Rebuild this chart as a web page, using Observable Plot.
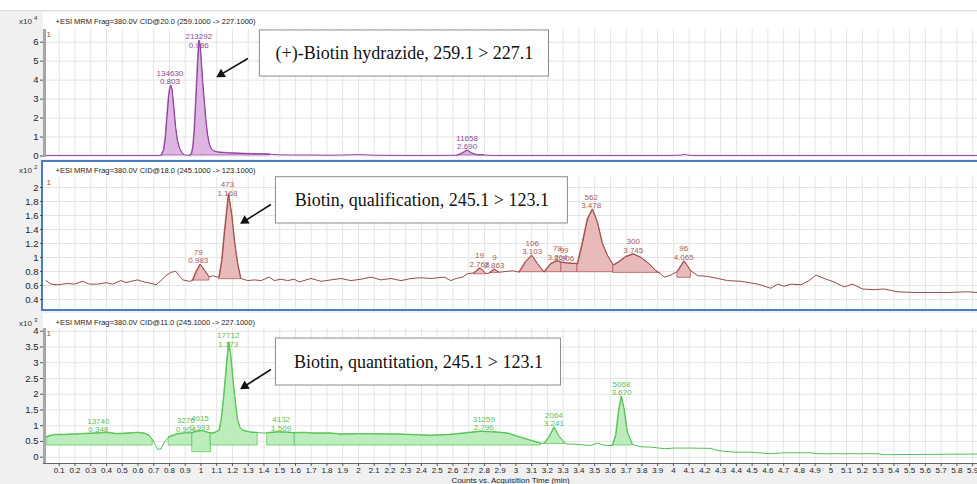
<!DOCTYPE html>
<html>
<head>
<meta charset="utf-8">
<script src="https://cdn.jsdelivr.net/npm/d3@7"></script>
<script src="https://cdn.jsdelivr.net/npm/@observablehq/plot@0.6"></script>
<style>
  body { margin: 0; background: #ffffff; }
  #wrap { position: relative; width: 977px; height: 484px; background: #f0f0f0; overflow: hidden;
          font-family: "Liberation Sans", Arial, sans-serif; }
  .bg { position: absolute; box-sizing: border-box; }
  .panel { position: absolute; left: 0; }
  .mult { position: absolute; left: 19px; font-size: 8px; color: #333; }
  .mult sup { font-size: 6px; margin-left: 2px; }
</style>
</head>
<body>
<div id="wrap">
  <div class="bg" style="left:0;top:0;width:977px;height:11px;background:#fff;border-bottom:1px solid #dedede"></div>
  <div class="bg" style="left:43px;top:12px;width:934px;height:147px;background:#fff"></div>
  <div class="bg" style="left:41px;top:160px;width:950px;height:151px;background:#fff;border:2px solid #4a7cc0"></div>
  <div class="bg" style="left:43px;top:313px;width:934px;height:150px;background:#fff"></div>
  <div class="mult" style="top:15px">x10<sup>4</sup></div>
  <div class="mult" style="top:164px">x10<sup>2</sup></div>
  <div class="mult" style="top:317px">x10<sup>3</sup></div>
</div>
<script>
// ---------------- shared axis values ----------------
const xMax = 5.931;
const xTicks = d3.range(1, 60).map(i => i / 10);
const xTitle = "Counts vs. Acquisition Time (min)";

// ---------------- Panel 1: (+)-Biotin hydrazide (x10^4 counts) ----------------
const header1 = "+ESI MRM Frag=380.0V CID@20.0 (259.1000 -> 227.1000)";
const yTicks1 = [0, 1, 2, 3, 4, 5, 6];
const trace1 = [
  [0.016,0.03],[0.300,0.03],[0.600,0.03],[0.740,0.03],[0.750,0.04],[0.765,0.35],[0.775,1.0],[0.785,2.1],
  [0.795,3.1],[0.803,3.6],[0.810,3.72],[0.818,3.5],[0.828,2.6],[0.840,1.5],[0.852,0.8],[0.865,0.4],
  [0.880,0.15],[0.895,0.06],[0.910,0.04],[0.930,0.04],[0.940,0.1],[0.950,0.5],[0.958,1.3],[0.965,2.4],
  [0.972,3.6],[0.980,5.0],[0.988,6.09],[0.995,5.9],[1.003,5.0],[1.012,3.9],[1.022,2.9],[1.032,1.9],
  [1.043,1.1],[1.055,0.6],[1.068,0.35],[1.085,0.25],[1.110,0.2],[1.150,0.17],[1.200,0.15],[1.260,0.13],
  [1.320,0.11],[1.400,0.10],[1.440,0.09],[1.500,0.06],[1.600,0.05],[1.700,0.05],[1.800,0.04],[1.900,0.05],
  [2.000,0.07],[2.050,0.06],[2.100,0.04],[2.300,0.03],[2.500,0.03],[2.630,0.04],[2.660,0.15],[2.690,0.30],
  [2.720,0.15],[2.750,0.06],[2.800,0.05],[2.850,0.03],[3.000,0.03],[3.500,0.03],[4.000,0.03],[4.050,0.05],
  [4.070,0.08],[4.090,0.05],[4.120,0.03],[4.500,0.03],[5.000,0.03],[5.500,0.03],[5.931,0.03]
];
const peakArea1  = [134630, 213292, 11658];
const peakRT1    = [0.803, 0.986, 2.690];
const peakStart1 = [0.750, 0.930, 2.630];
const peakEnd1   = [0.895, 1.440, 2.800];
const peakBase1  = [0.03, 0.03, 0.03];
const note1 = "(+)-Biotin hydrazide, 259.1 > 227.1";

// ---------------- Panel 2: Biotin qualification (x10^2 counts) ----------------
const header2 = "+ESI MRM Frag=380.0V CID@18.0 (245.1000 -> 123.1000)";
const yTicks2 = [0.4, 0.6, 0.8, 1, 1.2, 1.4, 1.6, 1.8, 2];
const trace2 = [
  [0.016,0.67],[0.048,0.62],[0.090,0.61],[0.154,0.63],[0.196,0.62],[0.249,0.66],[0.291,0.62],[0.344,0.62],
  [0.397,0.64],[0.439,0.62],[0.492,0.67],[0.524,0.64],[0.556,0.66],[0.598,0.68],[0.640,0.65],[0.683,0.63],
  [0.714,0.61],[0.746,0.67],[0.778,0.74],[0.810,0.79],[0.841,0.80],[0.862,0.74],[0.884,0.68],[0.926,0.66],
  [0.947,0.67],[0.971,0.80],[0.996,0.90],[1.013,0.85],[1.032,0.79],[1.053,0.72],[1.074,0.74],[1.106,0.72],
  [1.116,0.72],[1.133,0.95],[1.152,1.40],[1.176,1.91],[1.197,1.60],[1.216,1.20],[1.235,0.90],[1.254,0.70],
  [1.297,0.67],[1.338,0.68],[1.381,0.67],[1.434,0.72],[1.465,0.67],[1.508,0.69],[1.550,0.67],[1.592,0.69],
  [1.624,0.65],[1.698,0.70],[1.762,0.66],[1.825,0.68],[1.889,0.70],[1.952,0.67],[2.016,0.69],[2.079,0.72],
  [2.143,0.68],[2.206,0.70],[2.270,0.67],[2.333,0.70],[2.397,0.71],[2.460,0.70],[2.503,0.71],[2.545,0.72],
  [2.587,0.67],[2.619,0.70],[2.662,0.72],[2.693,0.77],[2.735,0.78],[2.773,0.85],[2.810,0.77],[2.835,0.78],
  [2.862,0.83],[2.894,0.79],[2.937,0.80],[2.979,0.81],[3.021,0.79],[3.063,0.94],[3.102,1.03],[3.138,0.91],
  [3.180,0.79],[3.222,0.91],[3.260,0.95],[3.290,0.93],[3.328,0.92],[3.392,0.91],[3.424,1.22],[3.455,1.55],
  [3.487,1.69],[3.519,1.50],[3.550,1.20],[3.582,1.03],[3.620,0.89],[3.656,0.94],[3.698,1.01],[3.745,1.05],
  [3.794,1.00],[3.846,0.91],[3.889,0.81],[3.916,0.77],[3.942,0.72],[3.984,0.75],[4.027,0.80],[4.069,0.95],
  [4.111,0.81],[4.154,0.74],[4.217,0.73],[4.281,0.70],[4.344,0.67],[4.429,0.66],[4.535,0.62],[4.619,0.56],
  [4.662,0.62],[4.703,0.59],[4.746,0.62],[4.810,0.61],[4.862,0.67],[4.905,0.75],[4.957,0.70],[5.021,0.65],
  [5.084,0.58],[5.138,0.62],[5.201,0.55],[5.275,0.54],[5.338,0.55],[5.424,0.51],[5.529,0.50],[5.635,0.50],
  [5.741,0.50],[5.868,0.51],[5.931,0.50]
];
const peakArea2  = [79, 473, 19, 9, 106, 78, 99, 562, 300, 96];
const peakRT2    = [0.983, 1.168, 2.768, 2.863, 3.103, 3.264, 3.306, 3.478, 3.745, 4.065];
const peakStart2 = [0.947, 1.116, 2.735, 2.835, 3.021, 3.180, 3.290, 3.392, 3.620, 4.027];
const peakEnd2   = [1.053, 1.254, 2.810, 2.894, 3.180, 3.290, 3.392, 3.620, 3.916, 4.111];
const peakBase2  = [0.67, 0.69, 0.76, 0.78, 0.79, 0.79, 0.79, 0.79, 0.78, 0.71];
const note2 = "Biotin, qualification, 245.1 > 123.1";

// ---------------- Panel 3: Biotin quantitation (x10^3 counts) ----------------
const header3 = "+ESI MRM Frag=380.0V CID@11.0 (245.1000 -> 227.1000)";
const yTicks3 = [0, 0.5, 1, 1.5, 2, 2.5, 3, 3.5, 4];
const trace3 = [
  [0.016,0.63],[0.027,0.66],[0.069,0.71],[0.154,0.72],[0.238,0.74],[0.323,0.76],[0.408,0.78],[0.471,0.74],
  [0.535,0.76],[0.598,0.78],[0.640,0.76],[0.672,0.69],[0.693,0.55],[0.725,0.25],[0.746,0.26],[0.771,0.50],
  [0.797,0.64],[0.852,0.74],[0.905,0.77],[0.947,0.78],[0.975,0.82],[1.006,0.84],[1.037,0.80],[1.063,0.76],
  [1.089,0.78],[1.116,0.85],[1.130,1.20],[1.143,1.80],[1.156,2.50],[1.168,3.20],[1.178,3.65],[1.189,3.30],
  [1.202,2.60],[1.216,1.90],[1.233,1.20],[1.248,0.95],[1.265,0.85],[1.317,0.79],[1.360,0.78],[1.387,0.77],
  [1.423,0.77],[1.487,0.80],[1.550,0.79],[1.597,0.77],[1.656,0.78],[1.719,0.76],[1.825,0.76],[1.889,0.73],
  [2.035,0.74],[2.249,0.73],[2.460,0.69],[2.566,0.71],[2.670,0.76],[2.778,0.82],[2.884,0.79],[2.947,0.76],
  [3.011,0.66],[3.095,0.53],[3.159,0.44],[3.180,0.44],[3.209,0.62],[3.243,0.95],[3.276,0.65],[3.317,0.42],
  [3.381,0.41],[3.476,0.37],[3.519,0.45],[3.559,0.38],[3.614,0.37],[3.635,0.70],[3.654,1.50],[3.671,1.93],
  [3.689,1.50],[3.708,0.80],[3.741,0.40],[3.794,0.33],[3.857,0.32],[3.942,0.27],[4.003,0.29],[4.111,0.29],
  [4.238,0.28],[4.281,0.21],[4.384,0.16],[4.492,0.16],[4.619,0.11],[4.702,0.14],[4.873,0.14],[4.917,0.11],
  [5.298,0.11],[5.336,0.08],[5.635,0.09],[5.931,0.10]
];
const peakArea3  = [13740, 3276, 4015, 17712, 4132, 31259, 2064, 5068];
const peakRT3    = [0.348, 0.904, 0.993, 1.173, 1.509, 2.796, 3.241, 3.670];
const peakStart3 = [0.027, 0.797, 0.947, 1.063, 1.423, 1.597, 3.180, 3.614];
const peakEnd3   = [0.693, 0.947, 1.063, 1.360, 1.597, 3.159, 3.317, 3.741];
const peakBase3  = [0.37, 0.37, 0.16, 0.37, 0.37, 0.37, 0.42, 0.37];
const note3 = "Biotin, quantitation, 245.1 > 123.1";

// ---------------- layout / style (not data) ----------------
const panels = [
  { top: 0, height: 160, marginTop: 29, marginBottom: 3, yDomain: [-0.08, 6.67], headerDy: -8,
    header: header1, yTicks: yTicks1, trace: trace1, area: peakArea1, rt: peakRT1, start: peakStart1, end: peakEnd1, base: peakBase1,
    line: "#8b3f98", fill: "#dcaee0", edge: "#a25cad", label: "#8a4c9c", bar: true, xAxis: false,
    note: note1, box: {x1: 1.374, x2: 3.21, y1: 4.19, y2: 6.62}, arrow: {x1: 1.298, y1: 5.14, x2: 1.114, y2: 4.24} },
  { top: 161, height: 150, marginTop: 16, marginBottom: 2, yDomain: [0.257, 2.143], headerDy: -7,
    header: header2, yTicks: yTicks2, trace: trace2, area: peakArea2, rt: peakRT2, start: peakStart2, end: peakEnd2, base: peakBase2,
    line: "#9a4a4a", fill: "#e6b3b3", edge: "#b35c5c", label: "#a85b5b", bar: false, xAxis: false,
    note: note2, box: {x1: 1.476, x2: 3.33, y1: 1.486, y2: 2.147}, arrow: {x1: 1.444, y1: 1.757, x2: 1.265, y2: 1.504} },
  { top: 312, height: 172, marginTop: 16, marginBottom: 21, yDomain: [-0.2, 4.086], headerDy: -6,
    header: header3, yTicks: yTicks3, trace: trace3, area: peakArea3, rt: peakRT3, start: peakStart3, end: peakEnd3, base: peakBase3,
    line: "#52c152", fill: "#b6ebb6", edge: "#5fc75f", label: "#5bbf5b", bar: true, xAxis: true,
    note: note3, box: {x1: 1.476, x2: 3.286, y1: 2.276, y2: 3.768}, arrow: {x1: 1.444, y1: 2.784, x2: 1.265, y2: 2.213} }
];

const fmt = d => String(+(+d).toFixed(1));
const pxPerMin = 934 / xMax;

function makePanel(c) {
  const trace = c.trace.map(([t, v]) => ({t, v}));
  const peaks = c.area.map((a, i) => ({area: a, rt: c.rt[i], start: c.start[i], end: c.end[i], base: c.base[i], id: i}));
  const fills = peaks.flatMap(p => trace
    .filter(d => d.t >= p.start - 1e-9 && d.t <= p.end + 1e-9)
    .map(d => ({t: d.t, v: d.v, base: p.base, id: p.id})));
  const upp = (c.yDomain[1] - c.yDomain[0]) / (c.height - c.marginTop - c.marginBottom);
  const labels = peaks.map(p => {
    const near = trace.filter(d => Math.abs(d.t - p.rt) <= 0.03);
    const top = d3.max(near, d => d.v);
    return {...p, ly: Math.min(top, c.yDomain[1] - 19 * upp)};
  });
  // arrow-head direction in screen pixels
  const a = c.arrow;
  const sx = (a.x2 - a.x1) * pxPerMin, sy = -(a.y2 - a.y1) / upp;
  const len = Math.hypot(sx, sy), ux = sx / len, uy = sy / len;
  const angle = Math.atan2(sx, -sy) * 180 / Math.PI;
  const grid = "#e4e4e4";
  const marks = [
    Plot.gridX({ticks: xTicks, stroke: grid, strokeOpacity: 1}),
    Plot.gridY({ticks: c.yTicks, stroke: grid, strokeOpacity: 1}),
    Plot.areaY(fills, {x: "t", y1: "base", y2: "v", z: "id", fill: c.fill, fillOpacity: 0.9, stroke: c.edge, strokeWidth: 0.8}),
    Plot.lineY(trace, {x: "t", y: "v", stroke: c.line, strokeWidth: 1}),
    Plot.text(labels, {x: "rt", y: "ly", text: d => d.area + "\n" + d.rt.toFixed(3), lineAnchor: "bottom", dy: -1,
      fill: c.label, fontSize: 8, lineHeight: 1.07}),
    Plot.axisY({ticks: c.yTicks, tickSize: 3, tickPadding: 2, tickFormat: fmt, label: null, fontSize: 9.5, fill: "#222", stroke: "#555"}),
    Plot.text([c.header], {text: d => d, frameAnchor: "top-left", textAnchor: "start", lineAnchor: "middle",
      dx: 12, dy: c.headerDy, fontSize: 7.5, fill: "#222"}),
    Plot.text(["1"], {text: d => d, frameAnchor: "top-left", textAnchor: "start", lineAnchor: "top", dx: 3, dy: 2, fontSize: 8, fill: "#666"}),
    Plot.rect([c.box], {x1: "x1", x2: "x2", y1: "y1", y2: "y2", fill: "white", stroke: "#8c8c8c", strokeWidth: 1}),
    Plot.text([c.box], {x: d => (d.x1 + d.x2) / 2, y: d => (d.y1 + d.y2) / 2, text: () => c.note,
      fontFamily: "Liberation Serif, Times New Roman, serif", fontSize: 18, fill: "#111"}),
    Plot.link([a], {x1: "x1", y1: "y1", x2: "x2", y2: "y2", stroke: "#111", strokeWidth: 1.6}),
    Plot.dot([a], {x: "x2", y: "y2", symbol: "triangle", r: 3.6, fill: "#111", stroke: "none",
      rotate: angle, dx: -ux * 2.5, dy: -uy * 2.5})
  ];
  if (c.bar) marks.push(Plot.ruleX([0], {stroke: "#a6a6a6", strokeWidth: 3, dx: 1}));
  if (c.xAxis) {
    marks.push(Plot.ruleY([c.yDomain[0]], {stroke: "#666"}));
    marks.push(Plot.axisX({ticks: xTicks, tickSize: 3, tickPadding: 1, tickFormat: fmt, label: null, fontSize: 8, fill: "#222", stroke: "#555"}));
    marks.push(Plot.text([xTitle], {text: d => d, frameAnchor: "bottom", lineAnchor: "middle", dy: 17, fontSize: 8, fill: "#222"}));
  }
  const svg = Plot.plot({
    width: 977, height: c.height,
    marginLeft: 43, marginRight: 0, marginTop: c.marginTop, marginBottom: c.marginBottom,
    x: {domain: [0, xMax], axis: null},
    y: {domain: c.yDomain, axis: null},
    style: {background: "transparent", overflow: "visible", fontFamily: "Liberation Sans, Arial, sans-serif", fontSize: "8px"},
    marks
  });
  svg.classList.add("panel");
  svg.style.top = c.top + "px";
  return svg;
}

const wrap = document.getElementById("wrap");
for (const c of panels) wrap.appendChild(makePanel(c));
</script>
</body>
</html>
